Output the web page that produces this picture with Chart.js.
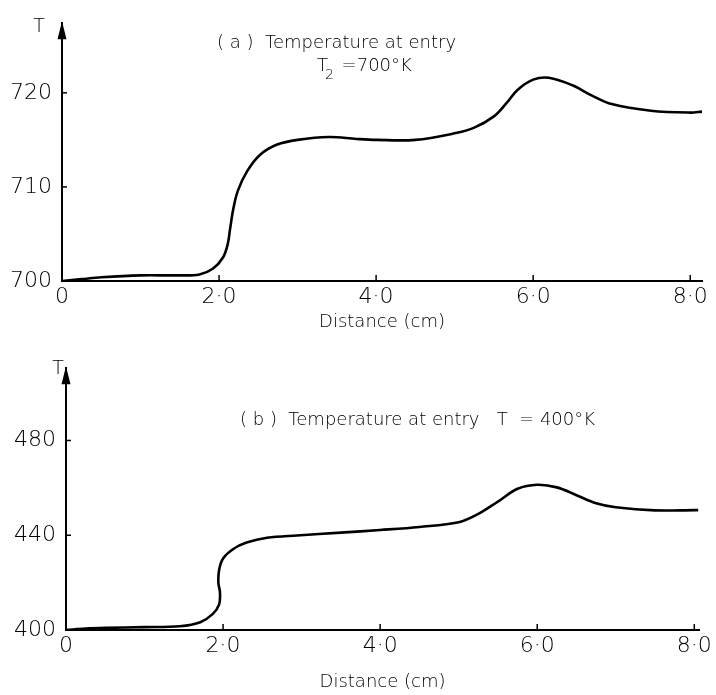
<!DOCTYPE html>
<html>
<head>
<meta charset="utf-8">
<script src="https://cdn.jsdelivr.net/npm/chart.js@4/dist/chart.umd.min.js"></script>
<style>
  html, body { margin: 0; padding: 0; background: #fff; }
  #wrap { position: relative; width: 716px; height: 695px; }
  #chartA { position: absolute; left: 0; top: 0; }
  #chartB { position: absolute; left: 0; top: 345px; }
</style>
</head>
<body>
<div id="wrap">
  <canvas id="chartA" width="716" height="345"></canvas>
  <canvas id="chartB" width="716" height="350"></canvas>
</div>
<script>
// (a) entry temperature 700 K
const distanceA = [0, 0.25, 0.5, 1.0, 1.5, 1.75, 1.92, 2.05, 2.11, 2.14, 2.18, 2.24, 2.36, 2.52, 2.74, 3.0, 3.4, 3.75, 4.0, 4.5, 5.0, 5.25, 5.5, 5.66, 5.8, 6.0, 6.2, 6.5, 6.75, 7.0, 7.5, 8.0, 8.15];
const tempA = [700.0, 700.2, 700.4, 700.6, 700.6, 700.7, 701.3, 702.5, 703.9, 705.5, 707.6, 709.6, 711.7, 713.4, 714.5, 715.0, 715.3, 715.1, 715.0, 715.0, 715.7, 716.3, 717.5, 718.9, 720.3, 721.4, 721.6, 720.8, 719.7, 718.8, 718.1, 717.9, 718.0];

// (b) entry temperature 400 K
const distanceB = [0, 0.25, 0.5, 1.0, 1.45, 1.71, 1.87, 1.95, 1.96, 1.94, 1.95, 2.0, 2.13, 2.3, 2.56, 2.94, 3.5, 4.0, 4.5, 5.0, 5.25, 5.5, 5.75, 6.0, 6.25, 6.5, 6.75, 7.0, 7.5, 8.0, 8.05];
const tempB = [400, 400.6, 400.9, 401.2, 401.6, 403.3, 406.8, 410.8, 416, 420, 425.4, 430.2, 434.2, 436.9, 438.9, 439.9, 441.1, 442.2, 443.5, 445.5, 449, 454.2, 459.6, 461.3, 460.2, 456.9, 453.5, 451.8, 450.5, 450.6, 450.6];

const xTicks = [0, 2, 4, 6, 8];
const yTicksA = [700, 710, 720];
const yTicksB = [400, 440, 480];

const FONT = '"DejaVu Sans", sans-serif';
const INK = "#000";

function fmtDist(v) {
    return v === 0 ? "0" : v.toFixed(1).replace(".", "\u00B7");
}

// arrow on the T axis, inward tick marks, notes
const decorations = {
    id: "decorations",
    afterDraw(chart, args, opts) {
        const ctx = chart.ctx;
        const area = chart.chartArea;
        const xs = chart.scales.x;
        const ys = chart.scales.y;
        ctx.save();
        ctx.strokeStyle = INK;
        ctx.fillStyle = INK;
        ctx.lineWidth = 1.5;

        // ticks pointing into the plot
        xTicks.forEach(v => {
            if (v === 0) return;
            const px = xs.getPixelForValue(v);
            ctx.beginPath();
            ctx.moveTo(px, area.bottom);
            ctx.lineTo(px, area.bottom - 6);
            ctx.stroke();
        });
        opts.yTicks.forEach(v => {
            const py = ys.getPixelForValue(v);
            ctx.beginPath();
            ctx.moveTo(area.left, py);
            ctx.lineTo(area.left + 5, py);
            ctx.stroke();
        });

        // arrowhead
        ctx.beginPath();
        ctx.moveTo(area.left, area.top - 2);
        ctx.lineTo(area.left - 4.5, area.top + 16);
        ctx.lineTo(area.left + 4.5, area.top + 16);
        ctx.closePath();
        ctx.fill();

        // axis letter
        ctx.font = "200 19px " + FONT;
        ctx.textAlign = "center";
        ctx.textBaseline = "middle";
        ctx.fillText("T", area.left + opts.tOffset, area.top + opts.tDy);

        // notes
        ctx.textAlign = "left";
        opts.notes.forEach(n => {
            ctx.font = "200 " + n.size + "px " + FONT;
            ctx.fillText(n.text, n.x, n.y);
            if (n.sub) {
                const w = ctx.measureText(n.text).width;
                ctx.font = "200 " + Math.round(n.size * 0.75) + "px " + FONT;
                ctx.fillText(n.sub, n.x + w - 3, n.y + 9);
                const w2 = ctx.measureText(n.sub).width;
                ctx.font = "200 " + n.size + "px " + FONT;
                ctx.fillText(n.rest, n.x + w + w2 - 1, n.y);
            }
        });
        ctx.restore();
    }
};

function makeChart(canvasId, xs, ys, cfg) {
    const ctx = document.getElementById(canvasId).getContext("2d");
    return new Chart(ctx, {
        type: "line",
        data: {
            datasets: [{
                data: xs.map((x, i) => ({ x: x, y: ys[i] })),
                borderColor: INK,
                borderWidth: 2.6,
                pointRadius: 0,
                tension: 0.35,
                fill: false
            }]
        },
        options: {
            responsive: false,
            animation: false,
            layout: { padding: { top: cfg.padTop, right: cfg.padRight, left: 0, bottom: 0 } },
            plugins: {
                legend: { display: false },
                tooltip: { enabled: false },
                decorations: {
                    yTicks: cfg.yTicks,
                    notes: cfg.notes,
                    tOffset: cfg.tOffset,
                    tDy: cfg.tDy
                }
            },
            scales: {
                x: {
                    type: "linear",
                    min: 0,
                    max: cfg.xMax,
                    afterBuildTicks: s => { s.ticks = xTicks.map(v => ({ value: v })); },
                    afterFit: s => { s.height = cfg.xAxisHeight; },
                    grid: { display: false, drawTicks: false },
                    border: { display: true, color: INK, width: 2 },
                    ticks: {
                        color: INK,
                        padding: 3,
                        maxRotation: 0,
                        font: { family: FONT, size: 22, weight: 200 },
                        callback: v => fmtDist(v)
                    },
                    title: {
                        display: true,
                        text: "Distance (cm)",
                        color: INK,
                        font: { family: FONT, size: 18, weight: 200 },
                        padding: { top: 0, bottom: cfg.titlePad }
                    }
                },
                y: {
                    type: "linear",
                    min: cfg.yMin,
                    max: cfg.yMax,
                    afterBuildTicks: s => { s.ticks = cfg.yTicks.map(v => ({ value: v })); },
                    afterFit: s => { s.width = cfg.yAxisWidth; },
                    grid: { display: false, drawTicks: false },
                    border: { display: true, color: INK, width: 2 },
                    ticks: {
                        color: INK,
                        padding: 10,
                        font: { family: FONT, size: 22, weight: 200 }
                    }
                }
            }
        },
        plugins: [decorations]
    });
}

makeChart("chartA", distanceA, tempA, {
    padTop: 14, padRight: 14, xMax: 8.15,
    yMin: 700, yMax: 727.4, yTicks: yTicksA,
    xAxisHeight: 64, yAxisWidth: 62, titlePad: 12, tOffset: -23, tDy: 4,
    notes: [
        { text: "( a )  Temperature at entry", x: 217, y: 43, size: 18 },
        { text: "T", sub: "2", rest: " =700\u00B0K", x: 317, y: 66, size: 18 }
    ]
});

makeChart("chartB", distanceB, tempB, {
    padTop: 10, padRight: 17, xMax: 8.06,
    yMin: 400, yMax: 510.5, yTicks: yTicksB,
    xAxisHeight: 65, yAxisWidth: 66, titlePad: 2, tOffset: -8, tDy: 1,
    notes: [
        { text: "( b )  Temperature at entry   T  = 400\u00B0K", x: 240, y: 75, size: 18 }
    ]
});
</script>
</body>
</html>
